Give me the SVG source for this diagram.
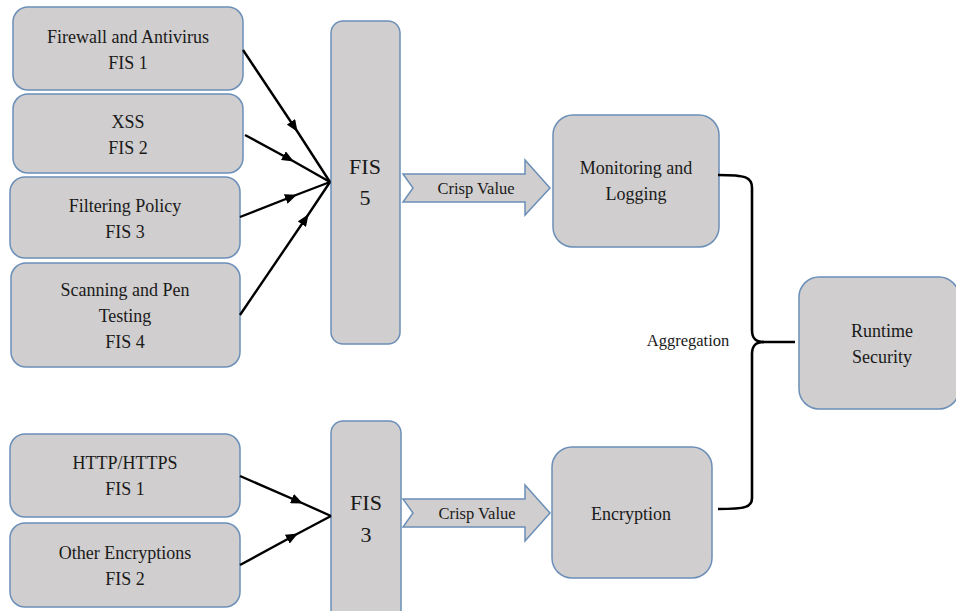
<svg xmlns="http://www.w3.org/2000/svg" width="956" height="611" viewBox="0 0 956 611">
  <defs>
    <style>
      .box { fill: #d0cece; stroke: #6b8fb8; stroke-width: 1.5; }
      .lbl { font-size: 18px; fill: #1a1a1a; text-anchor: middle; }
      .big { font-size: 22px; }
      .sm { font-size: 16.5px; }
      .wire { fill: none; stroke: #000; stroke-width: 2.4; }
      .brace { fill: none; stroke: #000; stroke-width: 2.6; }
    </style>
    <marker id="head" viewBox="0 0 12 10" refX="11" refY="5" markerWidth="12" markerHeight="10" markerUnits="userSpaceOnUse" orient="auto">
      <path d="M0,0 L12,5 L0,10 Z" fill="#000"/>
    </marker>
  </defs>

  <g font-family="Liberation Serif, DejaVu Serif, serif">
  <!-- upper input sources -->
  <g id="fis1-firewall">
    <rect class="box" x="13" y="7" width="230" height="83" rx="15"/>
    <text class="lbl" x="128" y="43">Firewall and Antivirus</text>
    <text class="lbl" x="128" y="69">FIS 1</text>
  </g>
  <g id="fis2-xss">
    <rect class="box" x="13" y="94" width="230" height="79" rx="15"/>
    <text class="lbl" x="128" y="128">XSS</text>
    <text class="lbl" x="128" y="154">FIS 2</text>
  </g>
  <g id="fis3-filtering">
    <rect class="box" x="10" y="177" width="230" height="81" rx="15"/>
    <text class="lbl" x="125" y="212">Filtering Policy</text>
    <text class="lbl" x="125" y="238">FIS 3</text>
  </g>
  <g id="fis4-scanning">
    <rect class="box" x="11" y="263" width="229" height="104" rx="15"/>
    <text class="lbl" x="125" y="296">Scanning and Pen</text>
    <text class="lbl" x="125" y="322">Testing</text>
    <text class="lbl" x="125" y="348">FIS 4</text>
  </g>

  <!-- upper aggregator -->
  <g id="fis5">
    <rect class="box" x="331" y="21" width="69" height="323" rx="12"/>
    <text class="lbl big" x="365" y="174">FIS</text>
    <text class="lbl big" x="365" y="205">5</text>
  </g>

  <g id="crisp-top">
    <polygon class="box" points="403,174 525,174 525,160 550,188 525,215 525,202 403,202 413,188"/>
    <text class="lbl sm" x="476" y="194">Crisp Value</text>
  </g>

  <g id="monitoring">
    <rect class="box" x="553" y="115" width="166" height="132" rx="20"/>
    <text class="lbl" x="636" y="174">Monitoring and</text>
    <text class="lbl" x="636" y="200">Logging</text>
  </g>

  <!-- lower input sources -->
  <g id="http-fis1">
    <rect class="box" x="10" y="434" width="230" height="83" rx="15"/>
    <text class="lbl" x="125" y="469">HTTP/HTTPS</text>
    <text class="lbl" x="125" y="495">FIS 1</text>
  </g>
  <g id="other-enc-fis2">
    <rect class="box" x="10" y="523" width="230" height="84" rx="15"/>
    <text class="lbl" x="125" y="559">Other Encryptions</text>
    <text class="lbl" x="125" y="585">FIS 2</text>
  </g>

  <g id="fis3">
    <rect class="box" x="331" y="421" width="70" height="200" rx="12"/>
    <text class="lbl big" x="366" y="510">FIS</text>
    <text class="lbl big" x="366" y="542">3</text>
  </g>

  <g id="crisp-bottom">
    <polygon class="box" points="403,499 525,499 525,485 550,513 525,541 525,527 403,527 413,513"/>
    <text class="lbl sm" x="477" y="519">Crisp Value</text>
  </g>

  <g id="encryption">
    <rect class="box" x="552" y="447" width="160" height="131" rx="20"/>
    <text class="lbl" x="631" y="520">Encryption</text>
  </g>

  <g id="runtime-security">
    <rect class="box" x="799" y="277" width="160" height="132" rx="20"/>
    <text class="lbl" x="882" y="337">Runtime</text>
    <text class="lbl" x="882" y="363">Security</text>
  </g>

  <text id="aggregation" class="lbl sm" x="688" y="346">Aggregation</text>
  </g>

  <!-- connectors -->
  <g id="connectors">
    <path class="wire" marker-mid="url(#head)" d="M243,50 L297,131 L330,182"/>
    <path class="wire" marker-mid="url(#head)" d="M245,135 L293,161 L330,182"/>
    <path class="wire" marker-mid="url(#head)" d="M240,217 L296,195 L330,182"/>
    <path class="wire" marker-mid="url(#head)" d="M240,315 L308,215 L330,182"/>
    <path class="wire" marker-mid="url(#head)" d="M240,476 L302,503 L331,516"/>
    <path class="wire" marker-mid="url(#head)" d="M240,565 L297,534 L331,516"/>
    <path class="brace" d="M718,175 C746,175 752,177 752,188 V330 C752,338 755,342 764,342 C755,342 752,346 752,354 V498 C752,507 746,509 718,509"/>
    <path class="brace" d="M762,342 H795"/>
  </g>
</svg>
